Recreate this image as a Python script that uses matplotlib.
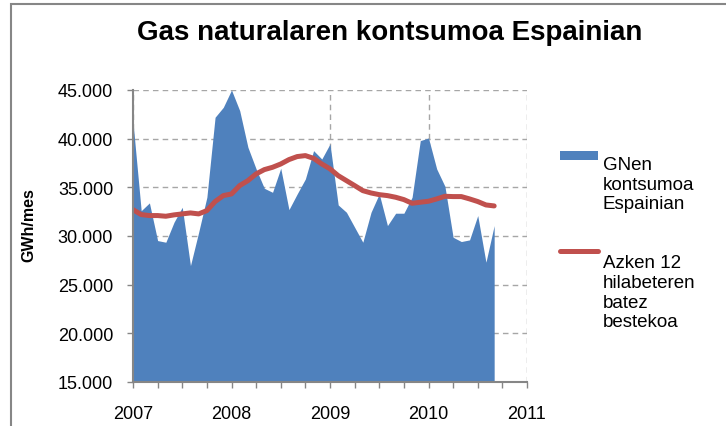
import numpy as np
import matplotlib.pyplot as plt
from matplotlib.patches import Rectangle
from matplotlib.lines import Line2D
from matplotlib.ticker import FuncFormatter, MultipleLocator

plt.rcParams['font.family'] = ['Liberation Sans', 'DejaVu Sans']

# Hileroko kontsumoa (GWh/mes), 2007ko urtarriletik 2010eko irailera
start_year = 2007
kontsumoa = [41700, 32600, 33400, 29530, 29360, 31420, 32950, 26960, 30390, 33980,
             42200, 43220, 45000, 42880, 39120, 36890, 34900, 34490, 36960, 32710,
             34320, 35860, 38770, 37910, 39460, 33190, 32440, 30900, 29360, 32440,
             34320, 31070, 32340, 32340, 33980, 39800, 40070, 36890, 35110, 29870,
             29430, 29600, 32100, 27310, 31070]
# Azken 12 hilabeteren batez bestekoa
batez_bestekoa = [32710, 32200, 32100, 32100, 32030, 32170, 32270, 32370, 32270, 32610,
                  33540, 34150, 34320, 35180, 35690, 36380, 36820, 37060, 37400, 37850,
                  38160, 38260, 37980, 37400, 36900, 36200, 35690, 35180, 34660, 34420,
                  34250, 34150, 33980, 33740, 33360, 33470, 33570, 33810, 34080, 34050,
                  34050, 33810, 33540, 33190, 33090]
urteak = [2007, 2008, 2009, 2010, 2011]

blue = '#4F81BD'
red = '#C0504D'
gray = '#868686'

W, H = 726, 427
fig = plt.figure(figsize=(W / 100, H / 100), dpi=100)

def fx(px):
    return px / W

def fy(py):
    return 1 - py / H

ax = fig.add_axes([fx(133), fy(383), fx(527) - fx(133), fy(91) - fy(383)])

x = start_year + np.arange(len(kontsumoa)) / 12
ax.fill_between(x, 15000, kontsumoa, color=blue, linewidth=0, zorder=2)
ax.plot(x, batez_bestekoa, color=red, linewidth=3.6, solid_capstyle='round', zorder=3)

ax.set_xlim(urteak[0], urteak[-1])
ax.set_ylim(15000, 45000)
ax.set_xticks(urteak)
ax.xaxis.set_minor_locator(MultipleLocator(0.25))
ax.yaxis.set_major_locator(MultipleLocator(5000))
ax.yaxis.set_major_formatter(FuncFormatter(lambda v, p: f"{v:,.0f}".replace(',', '.')))

ax.set_axisbelow(True)
ax.grid(True, which='major', color='#A6A6A6', linestyle=(0, (4, 3)), linewidth=1, zorder=0)

for s in ['top', 'right']:
    ax.spines[s].set_visible(False)
for s in ['left', 'bottom']:
    ax.spines[s].set_color(gray)
    ax.spines[s].set_linewidth(1.5)
    ax.spines[s].set_zorder(4)

ax.tick_params(axis='both', which='both', direction='out', color=gray, width=1,
               labelsize=13, labelcolor='black')
ax.tick_params(axis='x', which='both', length=4.3, pad=12)
ax.tick_params(axis='y', which='major', length=4.3, pad=10)

ax.set_ylabel('GWh/mes', fontsize=11.5, fontweight='bold')
ax.yaxis.set_label_coords(fx(36), fy(225), transform=fig.transFigure)

fig.text(fx(390), fy(33), 'Gas naturalaren kontsumoa Espainian', fontsize=20,
         fontweight='bold', ha='center', va='center')

# Legenda
fig.add_artist(Rectangle((fx(560), fy(160.5)), fx(598) - fx(560), fy(151.5) - fy(160.5),
                         transform=fig.transFigure, color=blue, linewidth=0))
fig.text(fx(603), fy(163.5 + 2 * 23), 'GNen\nkontsumoa\nEspainian', fontsize=13.5,
         ha='left', va='baseline', linespacing=1.23)
fig.add_artist(Line2D([fx(560), fx(598)], [fy(252), fy(252)], transform=fig.transFigure,
                      color=red, linewidth=3.6, solid_capstyle='round'))
fig.text(fx(603), fy(258.5 + 3 * 23), 'Azken 12\nhilabeteren\nbatez\nbestekoa', fontsize=13.5,
         ha='left', va='baseline', linespacing=1.23)

# Kanpoko ertza
fig.add_artist(Rectangle((fx(11), -0.05), 1.1, fy(5) + 0.05, transform=fig.transFigure,
                         fill=False, edgecolor=gray, linewidth=1.5, clip_on=False))

fig.savefig('out.png', dpi=100)
